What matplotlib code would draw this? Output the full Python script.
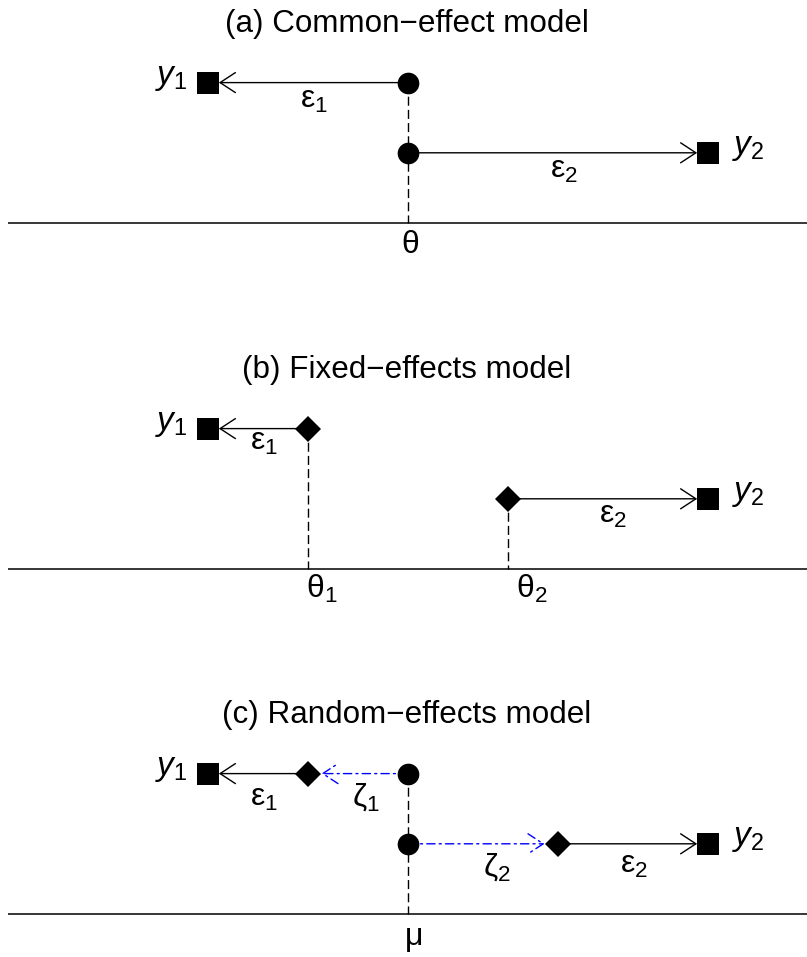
import matplotlib
matplotlib.use('Agg')
import matplotlib.pyplot as plt

plt.rcParams['font.family'] = ['Liberation Sans', 'DejaVu Sans']
plt.rcParams['mathtext.fontset'] = 'custom'
plt.rcParams['mathtext.rm'] = 'Liberation Sans'
plt.rcParams['mathtext.it'] = 'Liberation Sans:italic'

# data (x positions on the effect scale), rows: 2 = study 1, 1 = study 2
y_obs = [-2, 3]
rows = [2, 1]
theta_common = 0
theta_fixed = [-1, 1]
mu = 0
theta_random = [-1, 1.5]

titles = ["(a) Common\u2212effect model",
          "(b) Fixed\u2212effects model",
          "(c) Random\u2212effects model"]

W, H = 807, 957
fig = plt.figure(figsize=(W / 100, H / 100), dpi=100)

U = 70.2          # px per row unit
bases = [223, 569, 914]
TITLE_Y = 191 / U
PT = 0.72         # points per pixel

FS = 23
FS_Y = 24
FS_T = 22.6
MS_SQ, MS_CI, MS_DI = 15.6, 15.6, 13.7


def panel(i):
    base = bases[i]
    bottom = base + 0.6 * U
    ax = fig.add_axes([8 / W, 1 - bottom / H, 799 / W, 3.6 * U / H])
    ax.set_xlim(-4.0, 3.99)
    ax.set_ylim(-0.6, 3.0)
    ax.axis('off')
    ax.axhline(0, color='black', lw=1.1)
    ax.text(-0.015, TITLE_Y, titles[i], ha='center', va='baseline', fontsize=FS_T)
    return ax


def lab(ax, s, x, y, dx, dy, ha='center', fs=FS):
    ax.annotate(s, xy=(x, y), xytext=(dx * PT, -dy * PT), textcoords='offset points',
                ha=ha, va='baseline', fontsize=fs, annotation_clip=False)


def arrow(ax, x0, x1, y, shrinkB, color='black', ls='-'):
    ax.annotate('', xy=(x1, y), xytext=(x0, y),
                arrowprops=dict(arrowstyle='->,head_length=1.1,head_width=0.72',
                                color=color, lw=1.0, linestyle=ls,
                                shrinkA=0, shrinkB=shrinkB),
                annotation_clip=False)


def squares(ax):
    for x, r in zip(y_obs, rows):
        ax.plot(x, r, 's', color='black', ms=MS_SQ, mew=0, zorder=5, clip_on=False)
    lab(ax, r'$\mathit{y}_\mathrm{1}$', y_obs[0], rows[0], -21, 1, ha='right', fs=FS_Y)
    lab(ax, r'$\mathit{y}_\mathrm{2}$', y_obs[1], rows[1], 24, 1, ha='left', fs=FS_Y)


dash = (0, (6.5, 3))
dashdot = (0, (6, 3, 1.5, 3))
sq_half = MS_SQ / 2
di_half = MS_DI * 2 ** 0.5 / 2

# (a) common effect
ax = panel(0)
ax.plot([theta_common, theta_common], [rows[0], 0], color='black', lw=1.0, linestyle=dash)
for x, r in zip(y_obs, rows):
    arrow(ax, theta_common, x, r, sq_half)
ax.plot([theta_common] * 2, rows, 'o', color='black', ms=MS_CI, mew=0, zorder=5)
squares(ax)
lab(ax, r'$\mathrm{ε}_\mathrm{1}$', (y_obs[0] + theta_common) / 2, rows[0], 6, 25)
lab(ax, r'$\mathrm{ε}_\mathrm{2}$', (y_obs[1] + theta_common) / 2, rows[1], 6, 25)
lab(ax, r'$\mathrm{θ}$', theta_common, 0, 2, 30)

# (b) fixed effects
ax = panel(1)
for t, r in zip(theta_fixed, rows):
    ax.plot([t, t], [r, 0], color='black', lw=1.0, linestyle=dash)
for t, x, r in zip(theta_fixed, y_obs, rows):
    arrow(ax, t, x, r, sq_half)
ax.plot(theta_fixed, rows, 'D', color='black', ms=MS_DI, mew=0, zorder=5)
squares(ax)
lab(ax, r'$\mathrm{ε}_\mathrm{1}$', (y_obs[0] + theta_fixed[0]) / 2, rows[0], 6, 21)
lab(ax, r'$\mathrm{ε}_\mathrm{2}$', (y_obs[1] + theta_fixed[1]) / 2, rows[1], 5, 24)
lab(ax, r'$\mathrm{θ}_\mathrm{1}$', theta_fixed[0], 0, 14, 29)
lab(ax, r'$\mathrm{θ}_\mathrm{2}$', theta_fixed[1], 0, 24, 29)

# (c) random effects
ax = panel(2)
ax.plot([mu, mu], [rows[0], 0], color='black', lw=1.0, linestyle=dash)
for t, r in zip(theta_random, rows):
    arrow(ax, mu, t, r, di_half, color='blue', ls=dashdot)
for t, x, r in zip(theta_random, y_obs, rows):
    arrow(ax, t, x, r, sq_half)
ax.plot(theta_random, rows, 'D', color='black', ms=MS_DI, mew=0, zorder=5)
ax.plot([mu] * 2, rows, 'o', color='black', ms=MS_CI, mew=0, zorder=5)
squares(ax)
lab(ax, r'$\mathrm{ε}_\mathrm{1}$', (y_obs[0] + theta_random[0]) / 2, rows[0], 6, 32)
lab(ax, r'$\mathrm{ζ}_\mathrm{1}$', (theta_random[0] + mu) / 2, rows[0], 8, 32)
lab(ax, r'$\mathrm{ζ}_\mathrm{2}$', (theta_random[1] + mu) / 2, rows[1], 14, 32)
lab(ax, r'$\mathrm{ε}_\mathrm{2}$', (y_obs[1] + theta_random[1]) / 2, rows[1], 1, 29)
lab(ax, r'$\mathrm{μ}$', mu, 0, 5, 31)

fig.savefig('out.png', dpi=100)
